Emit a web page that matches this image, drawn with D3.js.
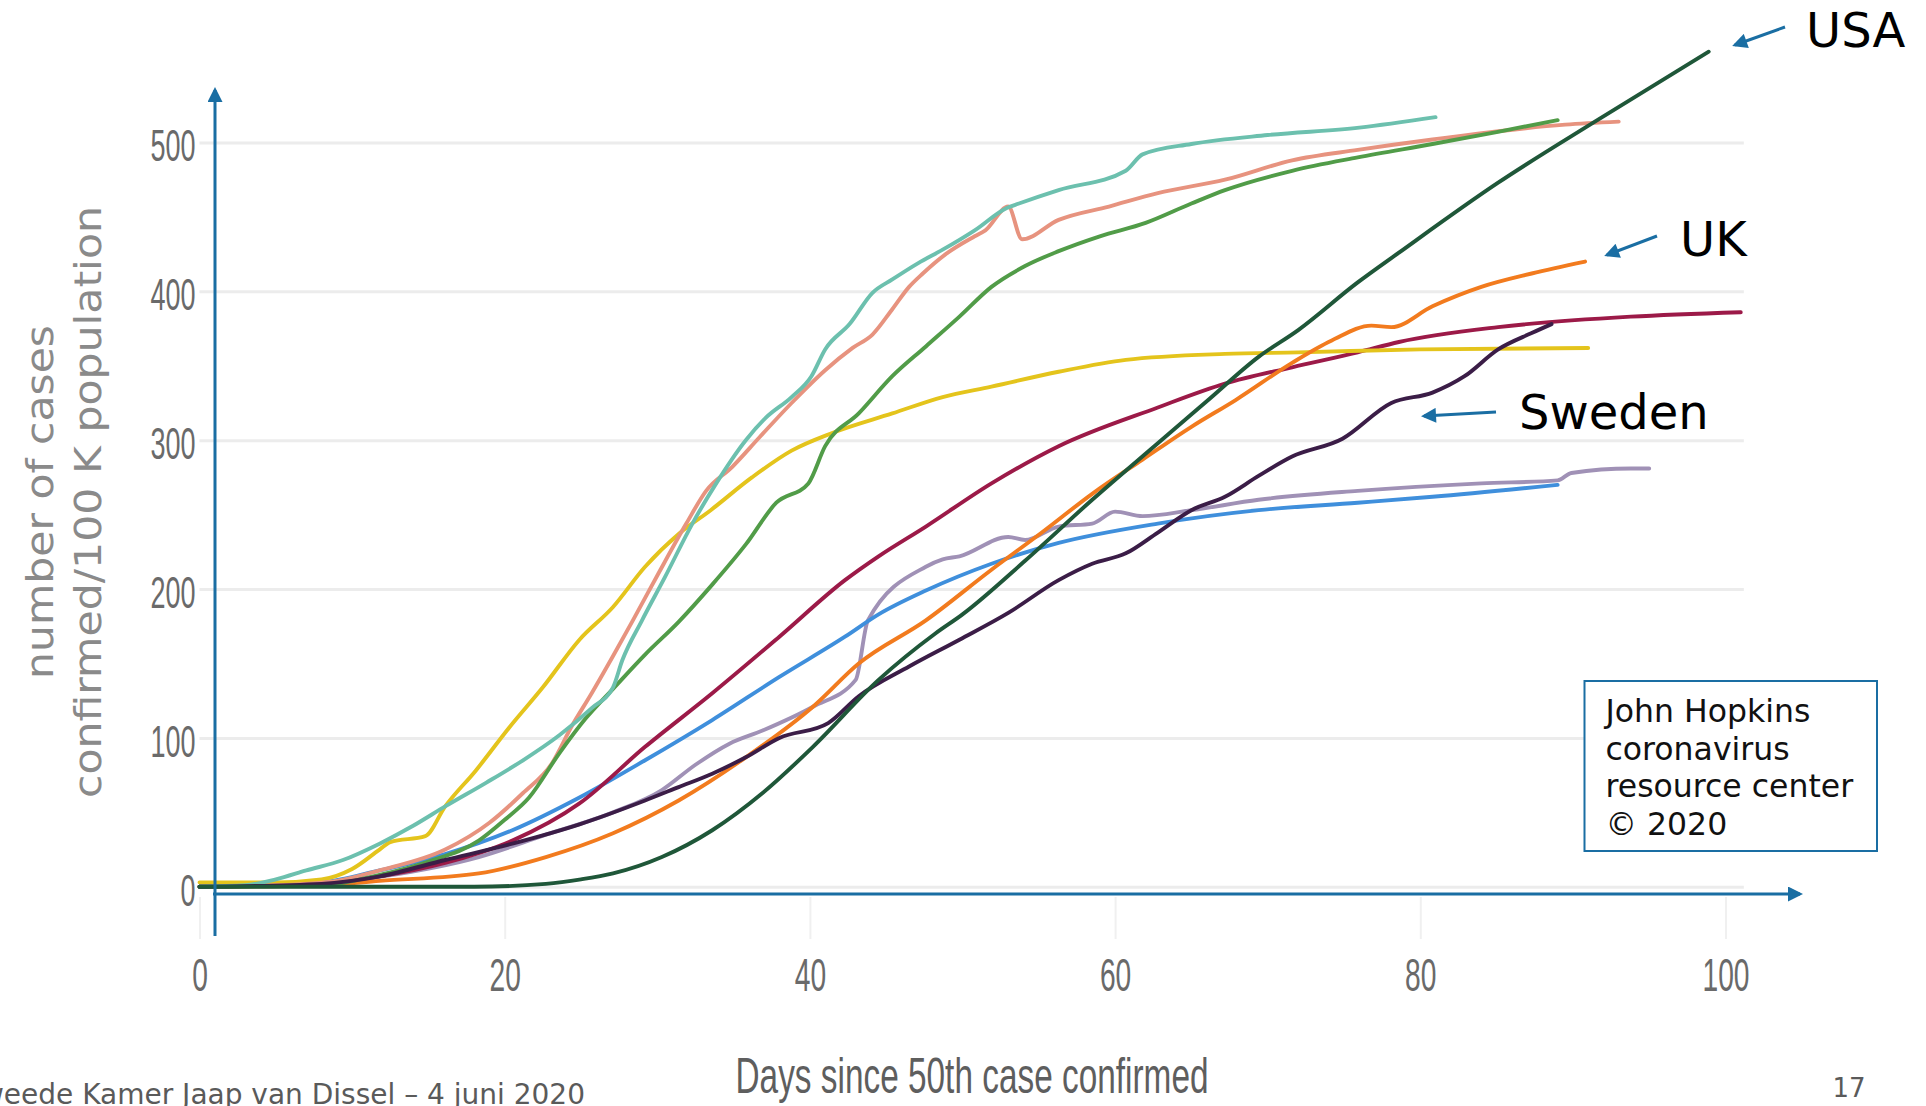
<!DOCTYPE html>
<html>
<head>
<meta charset="utf-8">
<script src="https://cdn.jsdelivr.net/npm/d3@7"></script>
<style>
  body { margin: 0; background: #fff; }
  svg { display: block; }
</style>
</head>
<body>
<svg width="1926" height="1106"></svg>
<script>
// ticks
var xTicks = [0, 20, 40, 60, 80, 100];
var yTicks = [0, 100, 200, 300, 400, 500];

// series: [day since 50th case, cases per 100K]
var teal = [[0,0],[3,1],[5,5],[7,11],[9.4,18],[11.8,29],[14,41],[16.1,54],[18.8,70],[21.2,85],[23.6,102],[25.7,120],[27.1,134],[27.7,152],[29,179],[30.5,208],[32.3,244],[33.8,270],[35.8,300],[37.1,315],[38.8,329],[40.1,343],[41,361],[42.6,378],[44.1,399],[45.4,408],[47.1,419],[48.7,428],[50.8,441],[52.9,456],[53.7,459],[56.3,468],[60.7,481],[61.8,492],[65,499],[70,505],[76,510],[81,517]];
var salmon = [[0,0],[5,1],[9,4],[11.8,11],[16.1,25],[19,43],[21.2,63],[23.1,83],[24.4,108],[25.7,130],[27.1,155],[28.4,179],[30.1,211],[31.9,244],[33.2,266],[34.9,282],[36.7,302],[38.8,325],[41,347],[42.8,362],[44.1,371],[45.4,388],[46.5,403],[47.4,412],[48.9,425],[50.8,437],[51.5,441],[53,457],[53.9,435],[56.3,448],[59.6,457],[62.8,466],[67.2,475],[71.6,488],[75.9,495],[80.8,502],[89.5,512],[93,514]];
var green = [[0,0],[8,1],[11.8,8],[15,17],[18.3,31],[20,45],[21.6,60],[23.6,90],[25.3,113],[27.1,133],[29.2,156],[31.4,178],[33.6,203],[35.8,230],[37.8,258],[39.9,271],[41,296],[43.2,318],[45.4,343],[47.6,363],[49.8,383],[51.9,403],[54.1,417],[56.3,427],[59,437],[62,446],[65,459],[67.2,468],[71.6,481],[75.9,490],[80.8,499],[85,507],[89,515]];
var usa = [[0,0],[18,0],[22.7,2],[25,5],[27.1,9],[30.3,20],[33.6,38],[36.9,63],[40.2,94],[44.5,139],[48.2,170],[50,183],[54.1,219],[58.5,260],[62.8,298],[66.1,327],[69.4,356],[72,374],[75.9,406],[78.6,426],[85.1,473],[91.6,515],[98.9,561]];
var uk = [[0,0],[8,1],[11.8,4],[18.3,9],[22.7,20],[27.1,36],[31.4,58],[35.8,87],[40.2,121],[43.2,150],[47.6,179],[51.9,213],[55.2,238],[58.5,264],[61.8,287],[65,309],[67.9,327],[71.6,352],[74.2,367],[76.8,377],[78.1,376],[80.8,390],[84,403],[87.3,412],[90.8,420]];
var crimson = [[0,0],[8,2],[11.8,7],[16.1,16],[20.5,31],[24.9,56],[29.2,94],[33.6,130],[38,168],[42.3,206],[44.5,222],[47.6,242],[51.9,271],[56.3,296],[62.8,322],[67.2,338],[71.6,349],[75.9,359],[78.6,366],[85.1,376],[93.8,383],[101,386]];
var yellow = [[0,3],[5,3],[8,5],[10,12],[11.8,25],[12.5,30],[14.8,34],[16.1,54],[18.1,78],[20.3,107],[22.5,134],[24.9,166],[27.1,188],[29.2,215],[31.4,237],[33.5,253],[36.2,275],[38.8,293],[41.5,305],[45.4,318],[48.7,329],[51.9,336],[56.3,346],[60.7,354],[67.2,358],[72,359],[80,361],[91,362]];
var blue = [[0,0],[8,3],[11.8,11],[16.1,22],[20.5,38],[24.9,60],[29.2,85],[33.6,112],[38,141],[42.3,168],[44.5,183],[47.6,199],[51.9,217],[56.3,231],[62.8,244],[69.4,253],[75.9,258],[80.8,262],[89,270]];
var lavender = [[0,0],[8,2],[12,7],[18.3,20],[22.7,35],[27.1,50],[30.3,65],[32.5,82],[34.7,96],[36.9,105],[40.2,121],[43,139],[43.8,179],[47.6,215],[48.7,220],[49.8,222],[53,235],[54.1,233],[56.3,242],[58.5,244],[60,252],[61.8,249],[65,253],[69.4,260],[75.9,266],[84,271],[89,273],[89.9,278],[93.8,281],[95,281]];
var sweden = [[0,0],[8,2],[11.8,7],[16.1,18],[20.5,29],[24.9,42],[29.2,58],[31.4,67],[33.6,76],[35.8,87],[38,100],[41.2,110],[43.2,128],[46.5,148],[49.8,166],[53,184],[56.3,206],[58.5,217],[60.7,224],[62.8,238],[65,253],[67.2,262],[69.4,276],[71.6,289],[74.9,301],[78.1,325],[80.8,332],[82.9,343],[85.1,361],[87.3,372],[88.6,378]];

var boxLines = ["John Hopkins", "coronavirus", "resource center", "\u00a9 2020"];

// drawing order and colours
var series = [
  { data: lavender, color: "#a091b6" },
  { data: blue, color: "#3f8fdc" },
  { data: crimson, color: "#9c1a48" },
  { data: yellow, color: "#e4c41c" },
  { data: uk, color: "#f27b1e" },
  { data: salmon, color: "#e7937f" },
  { data: green, color: "#519c48" },
  { data: teal, color: "#6cc0ae" },
  { data: sweden, color: "#3b1d47" },
  { data: usa, color: "#1f5739" }
];

var svg = d3.select("svg");
var blueInk = "#1a6ea3";

var x = d3.scaleLinear().domain([0, 100]).range([199.5, 1725.5]);
var y = d3.scaleLinear().domain([0, 500]).range([886.8, 142.5]);

// horizontal gridlines + y labels
var gy = svg.append("g")
  .attr("transform", "translate(" + x(0) + ",0)")
  .call(d3.axisLeft(y).tickValues(yTicks).tickSize(-(x(101.2) - x(0))).tickPadding(4));
gy.select(".domain").remove();
gy.selectAll(".tick line").attr("stroke", "#ececec").attr("stroke-width", 3);
gy.selectAll(".tick text")
  .attr("x", 0)
  .attr("dy", "0.36em")
  .attr("transform", "translate(-4,2) scale(0.6,1)")
  .style("font-family", "'Liberation Sans', Arial, sans-serif")
  .style("font-size", "45px")
  .attr("fill", "#6a6a6a");

// x labels with faint tick lines under the axis
var gx = svg.append("g")
  .attr("transform", "translate(0,897)")
  .call(d3.axisBottom(x).tickValues(xTicks).tickSize(42));
gx.select(".domain").remove();
gx.selectAll(".tick line").attr("stroke", "#f0f0f0").attr("stroke-width", 2);
gx.selectAll(".tick text")
  .attr("y", 0)
  .attr("dy", null)
  .attr("transform", "translate(0,94) scale(0.6,1)")
  .style("font-family", "'Liberation Sans', Arial, sans-serif")
  .style("font-size", "47px")
  .attr("fill", "#6a6a6a");

// lines
var line = d3.line()
  .x(function (d) { return x(d[0]); })
  .y(function (d) { return y(d[1]); })
  .curve(d3.curveMonotoneX);

svg.append("g").selectAll("path")
  .data(series)
  .enter().append("path")
  .attr("d", function (d) { return line(d.data); })
  .attr("fill", "none")
  .attr("stroke", function (d) { return d.color; })
  .attr("stroke-width", 3.9)
  .attr("stroke-linejoin", "round")
  .attr("stroke-linecap", "round");

// arrow heads
var defs = svg.append("defs");
defs.append("marker")
  .attr("id", "ah")
  .attr("viewBox", "0 0 10 10")
  .attr("refX", 8).attr("refY", 5)
  .attr("markerWidth", 6).attr("markerHeight", 5)
  .attr("orient", "auto")
  .append("path").attr("d", "M0,0 L10,5 L0,10 z").attr("fill", blueInk);

// slide axis arrows
svg.append("line")
  .attr("x1", 215).attr("y1", 936).attr("x2", 215).attr("y2", 90)
  .attr("stroke", blueInk).attr("stroke-width", 3).attr("marker-end", "url(#ah)");
svg.append("line")
  .attr("x1", 213).attr("y1", 894).attr("x2", 1800).attr("y2", 894)
  .attr("stroke", blueInk).attr("stroke-width", 3).attr("marker-end", "url(#ah)");

// axis titles
svg.append("text")
  .attr("x", 972).attr("y", 1093)
  .attr("text-anchor", "middle")
  .attr("textLength", 473).attr("lengthAdjust", "spacingAndGlyphs")
  .style("font-family", "'Liberation Sans', Arial, sans-serif")
  .style("font-size", "50px")
  .attr("fill", "#5e5e5e")
  .text("Days since 50th case confirmed");

var yTitle = [
  { t: "number of cases", bx: 53, len: 354 },
  { t: "confirmed/100 K population", bx: 101, len: 592 }
];
svg.selectAll(".ytitle")
  .data(yTitle)
  .enter().append("text")
  .attr("class", "ytitle")
  .attr("transform", function (d) { return "translate(" + d.bx + ",502) rotate(-90)"; })
  .attr("text-anchor", "middle")
  .attr("textLength", function (d) { return d.len; })
  .attr("lengthAdjust", "spacingAndGlyphs")
  .style("font-family", "'DejaVu Sans', Verdana, sans-serif")
  .style("font-size", "38px")
  .attr("fill", "#8a8a8a")
  .text(function (d) { return d.t; });

// country call-outs
var callouts = [
  { t: "USA", tx: 1806, ty: 47, x1: 1785, y1: 27, x2: 1735, y2: 45 },
  { t: "UK", tx: 1680, ty: 256, x1: 1657, y1: 236, x2: 1607, y2: 255 },
  { t: "Sweden", tx: 1519, ty: 429, x1: 1496, y1: 412, x2: 1424, y2: 416 }
];
svg.selectAll(".co-line")
  .data(callouts)
  .enter().append("line")
  .attr("class", "co-line")
  .attr("x1", function (d) { return d.x1; }).attr("y1", function (d) { return d.y1; })
  .attr("x2", function (d) { return d.x2; }).attr("y2", function (d) { return d.y2; })
  .attr("stroke", blueInk).attr("stroke-width", 3).attr("marker-end", "url(#ah)");
svg.selectAll(".co-text")
  .data(callouts)
  .enter().append("text")
  .attr("class", "co-text")
  .attr("x", function (d) { return d.tx; }).attr("y", function (d) { return d.ty; })
  .style("font-family", "'DejaVu Sans', Verdana, sans-serif")
  .style("font-size", "48px")
  .attr("fill", "#000")
  .text(function (d) { return d.t; });

// source box
svg.append("rect")
  .attr("x", 1584.5).attr("y", 681).attr("width", 292.5).attr("height", 170)
  .attr("fill", "#fff").attr("stroke", blueInk).attr("stroke-width", 2);
svg.selectAll(".src")
  .data(boxLines)
  .enter().append("text")
  .attr("class", "src")
  .attr("x", 1605.5)
  .attr("y", function (d, i) { return 722 + i * 37.5; })
  .style("font-family", "'DejaVu Sans', Verdana, sans-serif")
  .style("font-size", "31.5px")
  .attr("fill", "#111")
  .text(function (d) { return d; });

// slide footer (left part runs off the slide edge, as in the original)
svg.append("text")
  .attr("x", 585).attr("y", 1104)
  .attr("text-anchor", "end")
  .style("font-family", "'DejaVu Sans', Verdana, sans-serif")
  .style("font-size", "28px")
  .attr("fill", "#5a5a5a")
  .text("Tweede Kamer Jaap van Dissel \u2013 4 juni 2020");
svg.append("text")
  .attr("x", 1849).attr("y", 1097)
  .attr("text-anchor", "middle")
  .style("font-family", "'DejaVu Sans', Verdana, sans-serif")
  .style("font-size", "26px")
  .attr("fill", "#5a5a5a")
  .text("17");
</script>
</body>
</html>
